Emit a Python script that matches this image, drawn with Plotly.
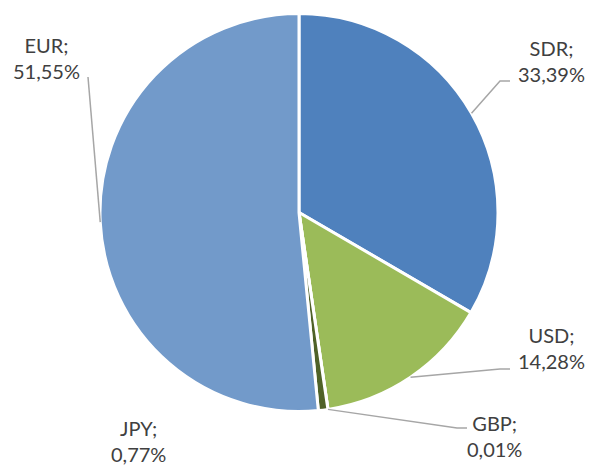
import math
import plotly.graph_objects as go

labels = ["SDR", "USD", "GBP", "JPY", "EUR"]
values = [33.39, 14.28, 0.01, 0.77, 51.55]
value_text = ["33,39%", "14,28%", "0,01%", "0,77%", "51,55%"]
colors = ["#4F81BD", "#9BBB59", "#C0504D", "#4F6228", "#729ACA"]

W, H = 590, 466
# pie geometry (pixels)
CX, CY, R = 299, 212.5, 199

# label placement (pixels): text center, and leader-line elbow points
label_pos = {
    "SDR": (551, 61, [(500, 81), (510, 81)]),
    "USD": (551, 348, [(500, 369), (510, 369)]),
    "GBP": (494, 436, [(457, 428), (467, 428)]),
    "JPY": (138, 441, None),
    "EUR": (46, 58, [(88, 77)]),
}

def px(x, y):
    return x / W, 1 - y / H

fig = go.Figure(go.Pie(
    labels=labels, values=values, sort=False, direction="clockwise", rotation=0,
    marker=dict(colors=colors, line=dict(color="white", width=3)),
    textinfo="none", hoverinfo="label+percent", showlegend=False,
    domain=dict(x=[(CX - R) / W, (CX + R) / W], y=[1 - (CY + R) / H, 1 - (CY - R) / H]),
))

total = sum(values)
cum = 0
shapes = []
annotations = []
for lab, val, txt in zip(labels, values, value_text):
    mid = (cum + val / 2) / total * 2 * math.pi
    cum += val
    sx = CX + R * math.sin(mid)
    sy = CY - R * math.cos(mid)
    tx, ty, elbow = label_pos[lab]
    if elbow:
        pts = [(sx, sy)] + elbow
        path = "M " + " L ".join(f"{px(x, y)[0]},{px(x, y)[1]}" for x, y in pts)
        shapes.append(dict(type="path", path=path, xref="paper", yref="paper",
                           line=dict(color="#A6A6A6", width=1.5)))
    ax, ay = px(tx, ty)
    annotations.append(dict(x=ax, y=ay, xref="paper", yref="paper", showarrow=False,
                            text=f"{lab};<br>{txt}", align="center",
                            xanchor="center", yanchor="middle",
                            font=dict(family="Lato", size=20, color="#404040")))

fig.update_layout(
    width=W, height=H, margin=dict(l=0, r=0, t=0, b=0),
    paper_bgcolor="white", plot_bgcolor="white",
    shapes=shapes, annotations=annotations,
)
fig.write_html("out.html", config={"displayModeBar": False},
               post_script="document.body.style.margin='0';document.body.style.overflow='hidden';")
